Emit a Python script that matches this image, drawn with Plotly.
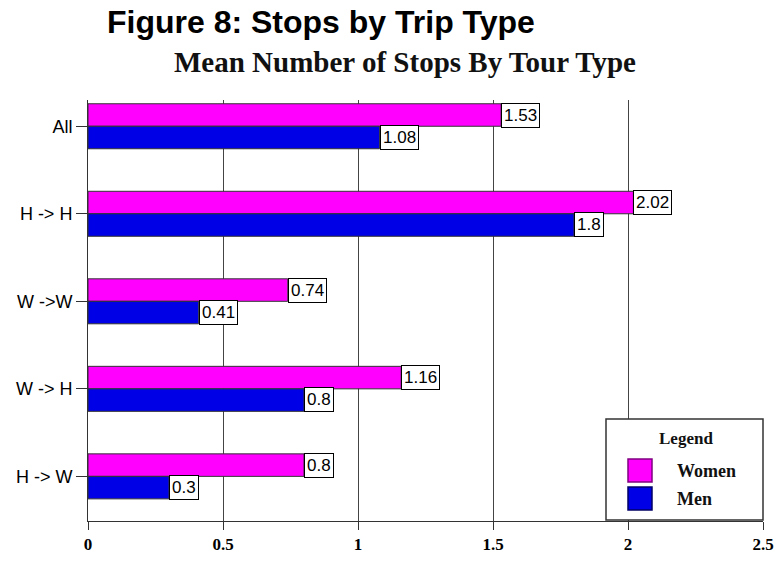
import plotly.graph_objects as go

# Mean stops per tour, by tour type
categories = ["All", "H -> H", "W ->W", "W -> H", "H -> W"]
women = [1.53, 2.02, 0.74, 1.16, 0.8]
men = [1.08, 1.8, 0.41, 0.8, 0.3]
x_ticks = [0, 0.5, 1, 1.5, 2, 2.5]
x_tick_labels = ["0", "0.5", "1", "1.5", "2", "2.5"]

WOMEN_COLOR = "#FF00FF"
MEN_COLOR = "#0000E6"
SANS = "Liberation Sans, Arial, sans-serif"
SERIF = "Liberation Serif, Times New Roman, serif"

W, H = 778, 564
L, R, T, B = 88, 15, 100, 43
plot_w = W - L - R
plot_h = H - T - B


def px_x(px):
    return (px - L) / plot_w


def px_y(py):
    return (H - B - py) / plot_h


fig = go.Figure()
fig.add_trace(go.Bar(
    name="Women", y=categories, x=women, orientation="h",
    marker=dict(color=WOMEN_COLOR, line=dict(color="#333333", width=1)),
    showlegend=False,
))
fig.add_trace(go.Bar(
    name="Men", y=categories, x=men, orientation="h",
    marker=dict(color=MEN_COLOR, line=dict(color="#333333", width=1)),
    showlegend=False,
))

annotations = []
# value boxes at the end of each bar
for series, shift in ((women, 11), (men, -11)):
    for cat, v in zip(categories, series):
        annotations.append(dict(
            x=v, y=cat, xref="x", yref="y", text=str(v), showarrow=False,
            xanchor="left", yanchor="middle", yshift=shift,
            font=dict(family=SANS, size=17, color="black"),
            bgcolor="white", bordercolor="black", borderwidth=1, borderpad=2,
        ))

# chart subtitle
annotations.append(dict(
    x=px_x(405), y=px_y(62), xref="paper", yref="paper",
    text="<b>Mean Number of Stops By Tour Type</b>", showarrow=False,
    xanchor="center", yanchor="middle",
    font=dict(family=SERIF, size=29, color="#111111"),
))

# legend panel
shapes = [
    dict(type="rect", xref="paper", yref="paper",
         x0=px_x(606), x1=px_x(763), y0=px_y(520), y1=px_y(419),
         fillcolor="white", line=dict(color="#333333", width=1.5), layer="above"),
    dict(type="rect", xref="paper", yref="paper",
         x0=px_x(628), x1=px_x(652), y0=px_y(482), y1=px_y(459),
         fillcolor=WOMEN_COLOR, line=dict(color="#800080", width=1.5), layer="above"),
    dict(type="rect", xref="paper", yref="paper",
         x0=px_x(628), x1=px_x(652), y0=px_y(510), y1=px_y(487),
         fillcolor=MEN_COLOR, line=dict(color="#000066", width=1.5), layer="above"),
]
annotations.append(dict(
    x=px_x(686), y=px_y(438), xref="paper", yref="paper", text="<b>Legend</b>",
    showarrow=False, xanchor="center", yanchor="middle",
    font=dict(family=SERIF, size=17, color="#111111"),
))
for label, py in (("Women", 471), ("Men", 499)):
    annotations.append(dict(
        x=px_x(675), y=px_y(py), xref="paper", yref="paper", text=f"<b>{label}</b>",
        showarrow=False, xanchor="left", yanchor="middle",
        font=dict(family=SERIF, size=18, color="#111111"),
    ))

fig.update_layout(
    width=W, height=H,
    margin=dict(l=L, r=R, t=T, b=B, autoexpand=False),
    paper_bgcolor="white", plot_bgcolor="white",
    barmode="group", bargap=0.486, bargroupgap=0,
    title=dict(
        text="<b>Figure 8: Stops by Trip Type</b>",
        x=107 / W, xanchor="left", xref="container",
        y=1 - 22 / H, yanchor="middle", yref="container",
        font=dict(family=SANS, size=32, color="black"),
    ),
    xaxis=dict(
        range=[0, 2.5], tickvals=x_ticks,
        ticktext=[f"<b>{t}</b>" for t in x_tick_labels],
        showgrid=True, gridcolor="#444444", gridwidth=1,
        zeroline=False, showline=True, linecolor="#333333", linewidth=1,
        ticks="outside", ticklen=8, tickcolor="#333333",
        tickfont=dict(family=SERIF, size=17, color="black", weight="bold"),
        automargin=False,
    ),
    yaxis=dict(
        range=[4.51, -0.3], type="category",
        showgrid=False, zeroline=False,
        showline=True, linecolor="#333333", linewidth=1,
        ticks="outside", ticklen=11, tickcolor="#333333",
        tickfont=dict(family=SANS, size=18, color="black"),
        automargin=False,
    ),
    shapes=shapes,
    annotations=annotations,
)

fig.write_html("out.html")
